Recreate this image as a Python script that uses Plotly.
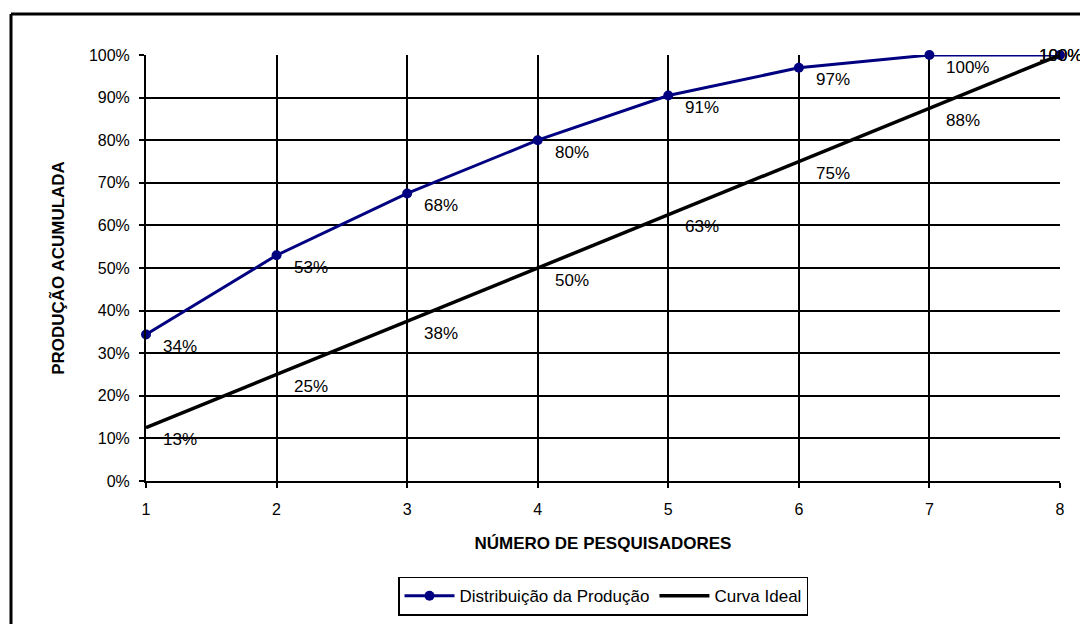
import plotly.graph_objects as go

pesquisadores = [1, 2, 3, 4, 5, 6, 7, 8]
distribuicao = [0.344, 0.53, 0.675, 0.80, 0.905, 0.97, 1.00, 1.00]
curva_ideal = [0.125, 0.25, 0.375, 0.50, 0.625, 0.75, 0.875, 1.00]

FONT = "Liberation Sans, Arial, sans-serif"

fig = go.Figure()
fig.add_trace(go.Scatter(
    x=pesquisadores, y=distribuicao, name="Distribuição da Produção",
    mode="lines+markers", line=dict(color="#000080", width=3),
    marker=dict(size=10, color="#000080"), cliponaxis=False
))
fig.add_trace(go.Scatter(
    x=pesquisadores, y=curva_ideal, name="Curva Ideal",
    mode="lines", line=dict(color="black", width=3.5), cliponaxis=False
))

# rótulos de dados (estilo Excel: abaixo e à direita do ponto)
for serie in (distribuicao, curva_ideal):
    for i, (xv, yv) in enumerate(zip(pesquisadores, serie)):
        last = i == len(serie) - 1
        fig.add_annotation(
            x=xv, y=yv, text=f"{round(yv * 100 + 1e-9):.0f}%", showarrow=False,
            xanchor="center" if last else "left", yanchor="middle",
            xshift=0 if last else 15, yshift=0 if last else -12,
            font=dict(family=FONT, size=17, color="black")
        )

# moldura externa do gráfico (a página tem 8px de margem)
fig.add_shape(type="line", xref="paper", yref="paper",
              x0=(11 - 146) / 914, x1=(1100 - 146) / 914,
              y0=(481 - 14) / 426, y1=(481 - 14) / 426,
              line=dict(color="black", width=3))
fig.add_shape(type="line", xref="paper", yref="paper",
              x0=(11 - 146) / 914, x1=(11 - 146) / 914,
              y0=(481 - 14) / 426, y1=(481 - 640) / 426,
              line=dict(color="black", width=3))

fig.update_layout(
    width=1080, height=616,
    margin=dict(l=138, r=28, t=47, b=143),
    paper_bgcolor="white", plot_bgcolor="white",
    font=dict(family=FONT, size=16, color="black"),
    showlegend=True,
    legend=dict(orientation="h", x=0.5, xanchor="center",
                yref="container", y=0.045, yanchor="middle",
                bordercolor="black", borderwidth=1.5, font=dict(size=17),
                itemwidth=50, tracegroupgap=0),
    xaxis=dict(
        range=[1, 8], tickmode="array", tickvals=pesquisadores, automargin=False,
        showgrid=True, gridcolor="black", gridwidth=1.5,
        showline=True, linecolor="black", linewidth=2, mirror=False,
        ticks="outside", ticklen=5, tickcolor="black", tickwidth=2,
        zeroline=False, tickfont=dict(size=16), ticklabelstandoff=8,
        title=dict(text="<b>NÚMERO DE PESQUISADORES</b>", font=dict(size=17), standoff=20)
    ),
    yaxis=dict(
        range=[0, 1], tickformat=".0%", dtick=0.1, automargin=False,
        showgrid=True, gridcolor="black", gridwidth=1.5,
        showline=True, linecolor="black", linewidth=2,
        ticks="outside", ticklen=5, tickcolor="black", tickwidth=2,
        zeroline=False, tickfont=dict(size=16), ticklabelstandoff=6,
        title=dict(text="<b>PRODUÇÃO ACUMULADA</b>", font=dict(size=17), standoff=20)
    ),
)

fig.write_html("out.html")
